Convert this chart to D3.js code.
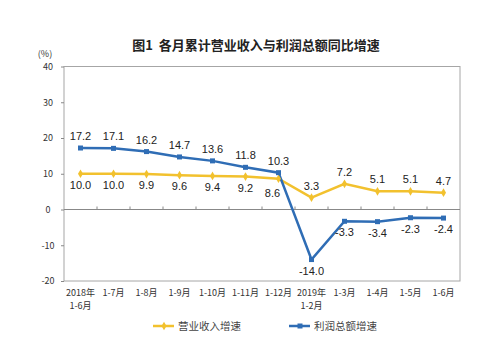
<!DOCTYPE html>
<html><head><meta charset="utf-8">
<script src="https://cdn.jsdelivr.net/npm/d3@7"></script>
<style>body{margin:0;background:#fff}svg{display:block}</style>
</head><body><svg id="c" width="500" height="351"></svg>
<script>
const categories = [["2018年","1-6月"],["1-7月"],["1-8月"],["1-9月"],["1-10月"],["1-11月"],["1-12月"],["2019年","1-2月"],["1-3月"],["1-4月"],["1-5月"],["1-6月"]];
const revenue = [10.0,10.0,9.9,9.6,9.4,9.2,8.6,3.3,7.2,5.1,5.1,4.7];
const profit = [17.2,17.1,16.2,14.7,13.6,11.8,10.3,-14.0,-3.3,-3.4,-2.3,-2.4];
const yTicks = [40,30,20,10,0,-10,-20];
const title = "图1\u00a0\u00a0各月累计营业收入与利润总额同比增速";
const seriesNames = ["营业收入增速","利润总额增速"];

const svg = d3.select("#c");
const font = "'Noto Sans CJK SC', 'Noto Sans', sans-serif";
const L=64,R=460,T=66.5,B=281;
const x = d3.scaleBand().domain(d3.range(categories.length)).range([L,R]);
const y = d3.scaleLinear().domain([-20,40]).range([B,T]);
const cx = i => x(i)+x.bandwidth()/2;
const yellow="#F2C12E", blue="#2F6DB5";
const hy = s => String(s).replace("\u2212","-");

svg.append("text").attr("x",256).attr("y",50).attr("text-anchor","middle")
  .attr("font-family",font).attr("font-size",13).attr("font-weight",600).attr("fill","#222").text(title);
svg.append("text").attr("x",45).attr("y",57).attr("text-anchor","middle")
  .attr("font-family",font).attr("font-size",9).attr("fill","#333").text("(%)");

svg.append("rect").attr("x",L).attr("y",T).attr("width",R-L).attr("height",B-T)
  .attr("fill","none").attr("stroke","#a6a6a6").attr("stroke-width",1);

// y axis
const ya = svg.append("g").attr("transform",`translate(${L},0)`)
  .call(d3.axisLeft(y).tickValues(yTicks).tickSize(3).tickPadding(10).tickFormat(d=>hy(d)));
ya.select(".domain").remove();
ya.selectAll("line").attr("stroke","#888");
ya.selectAll("text").attr("font-family",font).attr("font-size",9).attr("fill","#333").attr("text-anchor","middle").attr("dx",-3);

// zero line with ticks
svg.append("line").attr("x1",L).attr("x2",R).attr("y1",y(0)).attr("y2",y(0)).attr("stroke","#888").attr("stroke-width",1);
svg.selectAll(".zt").data(d3.range(1,categories.length)).enter().append("line")
  .attr("x1",i=>x(i)).attr("x2",i=>x(i)).attr("y1",y(0)).attr("y2",y(0)-3).attr("stroke","#888");

// x labels
const xl = svg.selectAll(".xl").data(categories).enter().append("text")
  .attr("x",(d,i)=>cx(i)).attr("y",296).attr("text-anchor","middle")
  .attr("font-family",font).attr("font-size",9).attr("fill","#333");
xl.selectAll("tspan").data(d=>d).enter().append("tspan")
  .attr("x",function(){return d3.select(this.parentNode).attr("x");})
  .attr("dy",(d,i)=>i?13:0).text(d=>d);

const line = d3.line().x((d,i)=>cx(i)).y(d=>y(d));
svg.append("path").datum(revenue).attr("d",line).attr("fill","none").attr("stroke",yellow).attr("stroke-width",2.5);
svg.append("path").datum(profit).attr("d",line).attr("fill","none").attr("stroke",blue).attr("stroke-width",2.5);

svg.selectAll(".ym").data(revenue).enter().append("path")
  .attr("transform",(d,i)=>`translate(${cx(i)},${y(d)})`).attr("d",d3.symbol(d3.symbolDiamond,22)).attr("fill",yellow);
svg.selectAll(".bm").data(profit).enter().append("rect")
  .attr("x",(d,i)=>cx(i)-2.5).attr("y",d=>y(d)-2.5).attr("width",5).attr("height",5).attr("fill",blue);

const lab = (data,below,shift) => svg.selectAll(null).data(data).enter().append("text")
  .attr("x",(d,i)=>cx(i)+(shift[i]||[0,0])[0]).attr("y",(d,i)=>y(d)+(below(i)?15:-8)+(shift[i]||[0,0])[1])
  .attr("text-anchor","middle").attr("font-family","'Liberation Sans', Arial, sans-serif").attr("font-size",11).attr("fill","#222")
  .text(d=>hy(d3.format(".1f")(d)));
lab(revenue,i=>i<7,{6:[-6,3]});
lab(profit,i=>i>=7,{});

// legend
const lg = [[153,178,yellow,0],[289,314,blue,1]];
lg.forEach(([x0,tx,c,k])=>{
  svg.append("line").attr("x1",x0).attr("x2",x0+21).attr("y1",326).attr("y2",326).attr("stroke",c).attr("stroke-width",2.5);
  if(k===0) svg.append("path").attr("transform",`translate(${x0+11},326)`).attr("d",d3.symbol(d3.symbolDiamond,22)).attr("fill",c);
  else svg.append("rect").attr("x",x0+8.5).attr("y",323.5).attr("width",5).attr("height",5).attr("fill",c);
  svg.append("text").attr("x",tx).attr("y",330).attr("font-family",font).attr("font-size",10.5).attr("fill","#444").text(seriesNames[k]);
});
</script></body></html>
